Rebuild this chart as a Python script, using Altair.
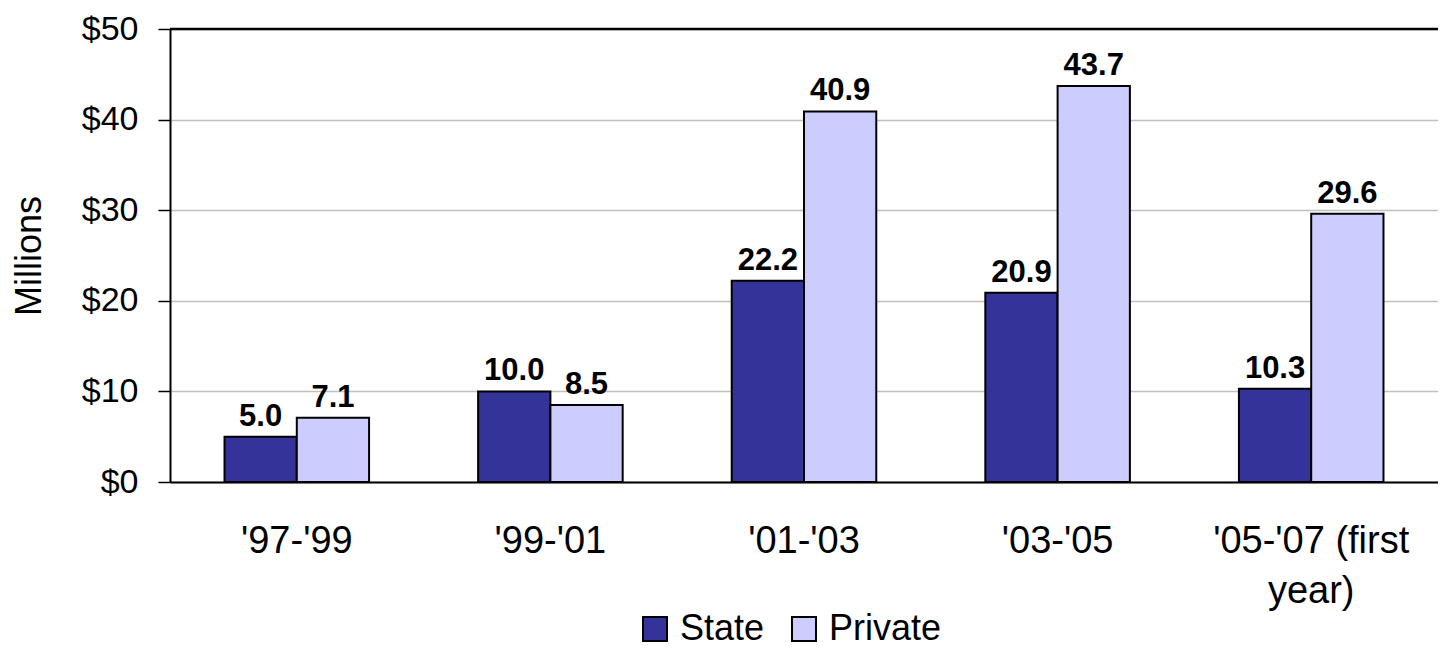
import altair as alt
import pandas as pd

periods = ["'97-'99", "'99-'01", "'01-'03", "'03-'05", "'05-'07 (first year)"]
series_names = ["State", "Private"]
state_values = [5.0, 10.0, 22.2, 20.9, 10.3]
private_values = [7.1, 8.5, 40.9, 43.7, 29.6]
y_ticks = [0, 10, 20, 30, 40, 50]
colors = ["#333399", "#CCCCFF"]

rows = []
for p, s, v in zip(periods, state_values, private_values):
    rows.append({"period": p, "series": "State", "value": s})
    rows.append({"period": p, "series": "Private", "value": v})
df = pd.DataFrame(rows)

FONT = "Liberation Sans"

x_enc = alt.X(
    "period:N",
    sort=periods,
    scale=alt.Scale(paddingInner=0.43, paddingOuter=0.215),
    axis=alt.Axis(
        title=None,
        labelAngle=0,
        labelFontSize=38,
        labelFont=FONT,
        labelColor="black",
        labelPadding=40,
        labelLineHeight=50,
        labelLimit=500,
        ticks=False,
        domainColor="black",
        domainWidth=2,
        labelExpr="length(datum.label) > 12 ? [slice(datum.label, 0, 14), slice(datum.label, 15)] : datum.label",
    ),
)
xo_enc = alt.XOffset("series:N", sort=series_names,
                     scale=alt.Scale(paddingInner=0, paddingOuter=0))
y_enc = alt.Y(
    "value:Q",
    scale=alt.Scale(domain=[0, 50], nice=False),
    axis=alt.Axis(
        title="Millions",
        titleFontSize=36,
        titleFont=FONT,
        titleFontWeight="normal",
        titleColor="black",
        titlePadding=33,
        values=y_ticks,
        labelExpr="'$' + datum.value",
        labelFontSize=34,
        labelFont=FONT,
        labelColor="black",
        labelPadding=20,
        tickSize=12,
        tickColor="black",
        tickWidth=1.5,
        domainColor="black",
        domainWidth=2,
        grid=True,
        gridColor="#c0c0c0",
        gridWidth=1.5,
    ),
)

base = alt.Chart(df)

bars = base.mark_bar(stroke="black", strokeWidth=2).encode(
    x=x_enc,
    xOffset=xo_enc,
    y=y_enc,
    color=alt.Color(
        "series:N",
        sort=series_names,
        scale=alt.Scale(domain=series_names, range=colors),
        legend=alt.Legend(
            title=None,
            orient="none",
            legendX=467,
            legendY=582,
            direction="horizontal",
            symbolType="square",
            symbolSize=576,
            symbolStrokeColor="black",
            symbolStrokeWidth=2,
            symbolOpacity=1,
            labelFontSize=36,
            labelFont=FONT,
            labelColor="black",
            labelOffset=7,
            columnPadding=21,
            padding=0,
        ),
    ),
)

labels = base.mark_text(
    fontWeight="bold", fontSize=31, font=FONT, dy=-11, baseline="alphabetic", color="black"
).encode(
    x=x_enc,
    xOffset=xo_enc,
    y=y_enc,
    text=alt.Text("value:Q", format=".1f"),
)

top_border = alt.Chart(pd.DataFrame({"v": [50]})).mark_rule(
    color="black", strokeWidth=2.5
).encode(y=alt.Y("v:Q", scale=alt.Scale(domain=[0, 50], nice=False)))

chart = (
    alt.layer(bars, labels, top_border)
    .properties(
        width=1268,
        height=453,
        autosize=alt.AutoSizeParams(type="none"),
        padding={"left": 162, "top": 21, "right": 0, "bottom": 167},
    )
    .configure_view(stroke=None)
    .configure(background="white")
)

chart.save("out.html", embed_options={"renderer": "svg", "actions": False})
